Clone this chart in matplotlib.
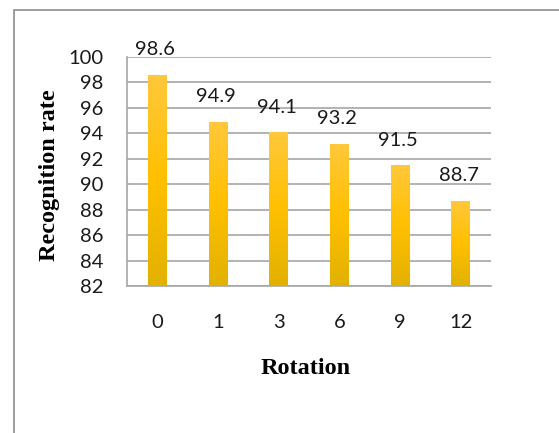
import numpy as np
import matplotlib.pyplot as plt
from matplotlib.colors import LinearSegmentedColormap
from matplotlib.patches import Rectangle

# recognition rate per rotation angle
rotations = ['0', '1', '3', '6', '9', '12']
rates = [98.6, 94.9, 94.1, 93.2, 91.5, 88.7]
y_ticks = [82, 84, 86, 88, 90, 92, 94, 96, 98, 100]

W, H = 559, 433
fig = plt.figure(figsize=(W / 100, H / 100), dpi=100)

# chart frame, its right and bottom sides run off the canvas
fig.add_artist(Rectangle((14 / W, -0.05), 1.2, (H - 10) / H + 0.05,
                         transform=fig.transFigure, fill=False,
                         edgecolor='#8c8c8c', linewidth=1.2))

ax = fig.add_axes([127 / W, 1 - 286 / H, (491 - 127) / W, (286 - 57) / H])

x = np.arange(len(rates))
bars = ax.bar(x, [r - 82 for r in rates], bottom=82, width=0.31,
              color='none', edgecolor='none', zorder=3)

# vertical gold gradient inside each bar
cmap = LinearSegmentedColormap.from_list(
    'gold', ['#e2b100', '#ffc000', '#ffc83c'])
grad = np.linspace(0, 1, 256).reshape(-1, 1)
for b in bars:
    x0, y0 = b.get_x(), b.get_y()
    im = ax.imshow(grad, cmap=cmap, origin='lower', aspect='auto',
                   extent=[x0, x0 + b.get_width(), y0, y0 + b.get_height()],
                   zorder=3)
    im.set_clip_path(b)

lab_font = dict(family=['Lato', 'DejaVu Sans'], fontsize=14.5, color='#1a1a1a')
for xi, r in zip(x, rates):
    ax.annotate(f'{r}', (xi, r), xytext=(-1.5, 18), textcoords='offset points',
                ha='center', va='center', **lab_font)

ax.set_xlim(-0.5, len(rates) - 0.5)
ax.set_ylim(82, 100)
ax.set_yticks(y_ticks)
ax.set_xticks(x)
ax.set_xticklabels(rotations)
ax.yaxis.grid(True, color='#a6a6a6', linewidth=1.2, zorder=0)
ax.set_axisbelow(True)

for lbl in ax.get_xticklabels() + ax.get_yticklabels():
    lbl.set_fontfamily(['Lato', 'DejaVu Sans'])
    lbl.set_fontsize(14.5)
    lbl.set_color('#1a1a1a')
ax.tick_params(axis='both', length=0)
ax.tick_params(axis='x', pad=20)
ax.tick_params(axis='y', pad=17)

for side in ['top', 'right']:
    ax.spines[side].set_visible(False)
for side in ['left', 'bottom']:
    ax.spines[side].set_color('#a6a6a6')
    ax.spines[side].set_linewidth(1.2)

title_font = dict(family=['Liberation Serif', 'DejaVu Serif'],
                  fontsize=17.5, fontweight='bold', color='black')
fig.text(306 / W, 1 - 369 / H, 'Rotation', ha='center', va='center',
         **title_font)
fig.text(50 / W, 1 - 175 / H, 'Recognition rate', ha='center', va='center',
         rotation=90, **title_font)

fig.savefig('out.png', dpi=100)
